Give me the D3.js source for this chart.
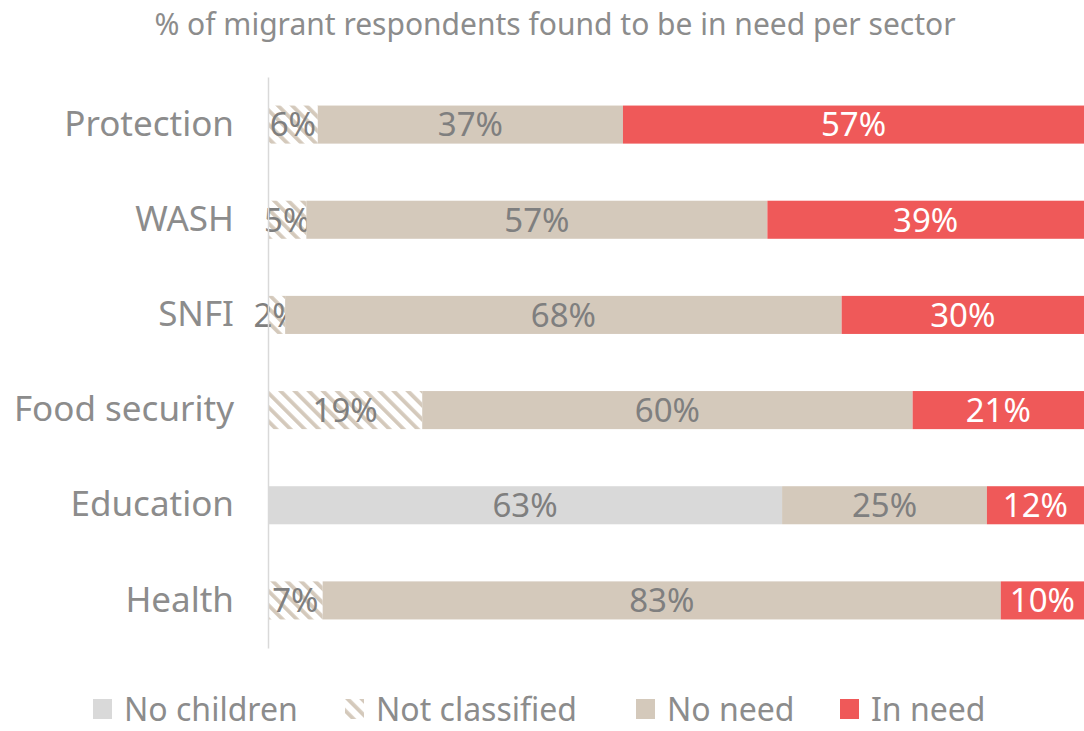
<!DOCTYPE html>
<html>
<head>
<meta charset="utf-8">
<script src="https://cdn.jsdelivr.net/npm/d3@7"></script>
<style>
  body { margin: 0; background: #fff; }
  svg text { font-family: "Noto Sans", "Open Sans", sans-serif; }
</style>
</head>
<body>
<div id="chart"></div>
<script>
const sectors = ['Protection', 'WASH', 'SNFI', 'Food security', 'Education', 'Health'];
const noChildren    = [0, 0, 0, 0, 63.0, 0];
const notClassified = [6.1, 4.7, 2.1, 18.9, 0, 6.7];
const noNeed        = [37.4, 56.5, 68.2, 60.1, 25.1, 83.1];
const inNeed        = [56.5, 38.8, 29.7, 21.0, 11.9, 10.2];
const xTicks = [0, 100];

const keys = ['noChildren', 'notClassified', 'noNeed', 'inNeed'];
const labels = { noChildren: 'No children', notClassified: 'Not classified', noNeed: 'No need', inNeed: 'In need' };
const fills = { noChildren: '#d9d9d9', notClassified: 'url(#hatch)', noNeed: '#d4c9bb', inNeed: '#ef5959' };
const textColor = { noChildren: '#7f7f7f', notClassified: '#7f7f7f', noNeed: '#7f7f7f', inNeed: '#ffffff' };

const rows = sectors.map((s, i) => ({
  sector: s,
  noChildren: noChildren[i],
  notClassified: notClassified[i],
  noNeed: noNeed[i],
  inNeed: inNeed[i]
}));

const W = 1084, H = 731;
const margin = { left: 268, right: 0, top: 77, bottom: 83 };

const svg = d3.select('#chart').append('svg')
  .attr('width', W)
  .attr('height', H);

// hatch for "Not classified"
const defs = svg.append('defs');
const pat = defs.append('pattern')
  .attr('id', 'hatch')
  .attr('patternUnits', 'userSpaceOnUse')
  .attr('width', 10)
  .attr('height', 10)
  .attr('patternTransform', 'rotate(-45)');
pat.append('rect').attr('width', 10).attr('height', 10).attr('fill', '#fff');
pat.append('rect').attr('x', 0).attr('y', 0).attr('width', 3.8).attr('height', 10).attr('fill', '#d4c9bb');

let x = d3.scaleLinear()
  .domain(d3.extent(xTicks))
  .range([margin.left, W - margin.right]);

let y = d3.scaleBand()
  .domain(sectors)
  .range([margin.top, H - margin.bottom])
  .paddingInner(0.6)
  .paddingOuter(0.3);

// title
svg.append('text')
  .attr('x', 555)
  .attr('y', 35)
  .attr('text-anchor', 'middle')
  .attr('font-size', 30)
  .attr('fill', '#8c8c8c')
  .text('% of migrant respondents found to be in need per sector');

const stack = d3.stack().keys(keys)(rows);

const groups = svg.selectAll('g.series')
  .data(stack)
  .enter()
  .append('g')
  .attr('class', 'series');

groups.selectAll('rect')
  .data(d => d.map(v => Object.assign(v, { key: d.key })))
  .enter()
  .append('rect')
  .attr('x', d => x(d[0]))
  .attr('y', d => y(d.data.sector))
  .attr('width', d => x(d[1]) - x(d[0]))
  .attr('height', y.bandwidth())
  .attr('fill', d => fills[d.key]);

groups.selectAll('text')
  .data(d => d.filter(v => v[1] - v[0] > 0))
  .enter()
  .append('text')
  .attr('x', d => (x(d[0]) + x(d[1])) / 2)
  .attr('y', d => y(d.data.sector) + y.bandwidth() / 2)
  .attr('dy', '0.36em')
  .attr('text-anchor', 'middle')
  .attr('font-size', 33)
  .attr('fill', d => textColor[d.key])
  .text(d => Math.round(d.data[d.key]) + '%');

// y axis
const yAxis = svg.append('g')
  .attr('transform', `translate(${margin.left},0)`)
  .call(d3.axisLeft(y).tickSize(0).tickPadding(34));
yAxis.select('.domain').attr('stroke', '#d9d9d9').attr('stroke-width', 1.5);
yAxis.selectAll('text')
  .attr('font-size', 35)
  .attr('fill', '#8c8c8c')
  .attr('font-family', '"Noto Sans", "Open Sans", sans-serif');

// legend
const legendX = { noChildren: 93, notClassified: 345, noNeed: 636, inNeed: 840 };
const lg = svg.selectAll('g.legend')
  .data(keys)
  .enter()
  .append('g')
  .attr('class', 'legend')
  .attr('transform', k => `translate(${legendX[k]},699)`);
lg.append('rect')
  .attr('width', 19)
  .attr('height', 20)
  .attr('fill', k => fills[k]);
lg.append('text')
  .attr('x', 31)
  .attr('y', 10)
  .attr('dy', '0.36em')
  .attr('font-size', 32)
  .attr('fill', '#8c8c8c')
  .text(k => labels[k]);
</script>
</body>
</html>
